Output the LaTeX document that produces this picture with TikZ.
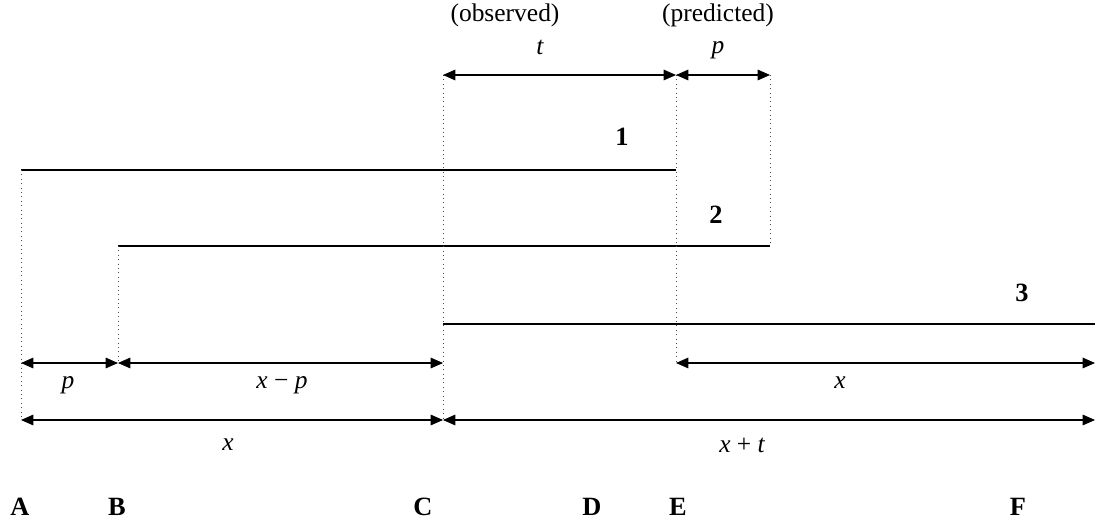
\documentclass[tikz,border=0pt]{standalone}
\usepackage{fontspec}
\setmainfont{Liberation Serif}
\usetikzlibrary{arrows.meta}
\begin{document}
\begin{tikzpicture}[x=0.02cm,y=-0.02cm,
  seg/.style={line width=1.5pt},
  dim/.style={line width=0.6pt,{Triangle[length=7pt,width=6pt]}-{Triangle[length=7pt,width=6pt]}},
  guide/.style={line width=0.5pt,dotted,black!70},
  lbl/.style={font=\fontsize{14.5}{16}\selectfont,inner sep=0pt},
  var/.style={font=\fontsize{14.5}{16}\selectfont\itshape,inner sep=0pt},
  bold/.style={font=\fontsize{15}{16}\selectfont\bfseries,inner sep=0pt}]
\useasboundingbox (0,0) rectangle (1095,520);
% segments
\coordinate (s1a) at (21,170); \coordinate (s1b) at (676,170);
\coordinate (s2a) at (118,246); \coordinate (s2b) at (770,246);
\coordinate (s3a) at (443,324); \coordinate (s3b) at (1095,324);
\draw[seg] (s1a) -- (s1b);
\draw[seg] (s2a) -- (s2b);
\draw[seg] (s3a) -- (s3b);
% dimension anchors
\coordinate (tC) at (443,75); \coordinate (tD) at (676,75); \coordinate (tE) at (770,75);
\coordinate (mA) at (21,363); \coordinate (mB) at (118,363); \coordinate (mC) at (443,363);
\coordinate (mD) at (676,363); \coordinate (mF) at (1095,363);
\coordinate (lA) at (21,420); \coordinate (lC) at (443,420); \coordinate (lF) at (1095,420);
% guides
\draw[guide] (tC) -- (lC);
\draw[guide] (tD) -- (mD);
\draw[guide] (tE) -- (s2b);
\draw[guide] (s1a) -- (lA);
\draw[guide] (s2a) -- (mB);
% dimension arrows
\draw[dim] (tC) -- (tD);
\draw[dim] (tD) -- (tE);
\draw[dim] (mA) -- (mB);
\draw[dim] (mB) -- (mC);
\draw[dim] (mD) -- (mF);
\draw[dim] (lA) -- (lC);
\draw[dim] (lC) -- (lF);
% labels
\node[lbl] (obs) at (505,15) {(observed)};
\node[lbl] (pred) at (718,15) {(predicted)};
\node[var] (lt) at (540,47) {t};
\node[var] (lp) at (718,50) {p};
\node[bold] (n1) at (622,137) {1};
\node[bold] (n2) at (716,215) {2};
\node[bold] (n3) at (1022,293) {3};
\node[var] (lp2) at (68,385) {p};
\node[var] (lxp) at (282,385) {x {\upshape\char"2212} p};
\node[var] (lx2) at (840,383) {x};
\node[var] (lx) at (228,445) {x};
\node[var] (lxt) at (742,445) {x {\upshape +} t};
\node[bold] (A) at (20,507) {A};
\node[bold] (B) at (117,507) {B};
\node[bold] (C) at (423,507) {C};
\node[bold] (D) at (592,507) {D};
\node[bold] (E) at (678,507) {E};
\node[bold] (F) at (1018,507) {F};
\end{tikzpicture}
\end{document}
